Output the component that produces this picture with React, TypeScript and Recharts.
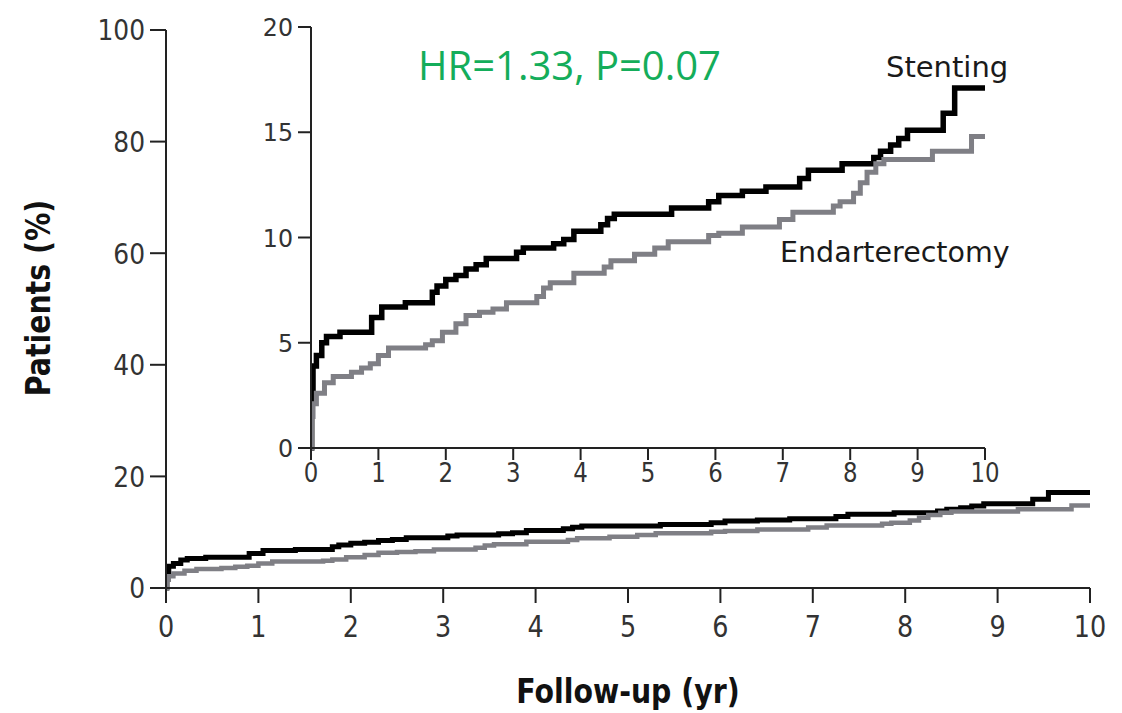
import React from 'react';
import { LineChart, Line, XAxis, YAxis } from 'recharts';

const yearTicks = [0, 1, 2, 3, 4, 5, 6, 7, 8, 9, 10];
const mainYTicks = [0, 20, 40, 60, 80, 100];
const insetYTicks = [0, 5, 10, 15, 20];

const stentTimes = [0, 0.01, 0.03, 0.08, 0.16, 0.23, 0.43, 0.9, 1.05, 1.4, 1.8, 1.87, 2.0, 2.15, 2.3, 2.45, 2.6, 3.05, 3.15, 3.6, 3.75, 3.9, 4.3, 4.4, 4.5, 5.35, 5.9, 6.05, 6.4, 6.75, 7.25, 7.38, 7.88, 8.35, 8.45, 8.6, 8.72, 8.85, 9.38, 9.55, 10.0];
const stentValues = [0, 2.5, 3.9, 4.4, 5.0, 5.3, 5.5, 6.2, 6.7, 6.9, 7.4, 7.7, 8.0, 8.2, 8.5, 8.7, 9.0, 9.3, 9.5, 9.7, 9.9, 10.3, 10.6, 10.9, 11.1, 11.4, 11.7, 12.0, 12.2, 12.4, 12.8, 13.2, 13.5, 13.8, 14.1, 14.4, 14.7, 15.1, 15.9, 17.1, 17.1];

const endTimes = [0, 0.01, 0.03, 0.08, 0.2, 0.33, 0.6, 0.75, 0.88, 1.0, 1.15, 1.7, 1.8, 1.95, 2.15, 2.3, 2.5, 2.7, 2.9, 3.35, 3.45, 3.55, 3.9, 4.35, 4.45, 4.8, 5.1, 5.3, 5.9, 6.05, 6.4, 6.95, 7.15, 7.75, 7.85, 8.05, 8.15, 8.25, 8.38, 8.5, 9.22, 9.8, 10.0];
const endValues = [0, 1.5, 2.1, 2.6, 3.1, 3.4, 3.6, 3.8, 4.0, 4.4, 4.75, 4.9, 5.1, 5.5, 5.9, 6.3, 6.45, 6.6, 6.9, 7.2, 7.6, 7.85, 8.3, 8.6, 8.9, 9.2, 9.5, 9.8, 10.1, 10.2, 10.5, 10.85, 11.2, 11.5, 11.7, 12.1, 12.6, 13.1, 13.5, 13.7, 14.1, 14.8, 14.8];

const stentData = stentTimes.map((t, i) => ({ t, v: stentValues[i] }));
const endData = endTimes.map((t, i) => ({ t, v: endValues[i] }));

const AXIS = '#222';
const BLACK = '#000000';
const GRAY = '#7f7f85';
const SANS = '"DejaVu Sans", sans-serif';

function makeTick(fontSize: number, scaleX: number, anchor: 'end' | 'middle', vertical: boolean) {
  return (props: any) => {
    const { x, y, payload } = props;
    return (
      <g transform={`translate(${x},${y}) scale(${scaleX},1)`}>
        <text
          x={0}
          y={0}
          dy={vertical ? '0.36em' : '0.74em'}
          textAnchor={anchor}
          fontSize={fontSize}
          fill="#333"
          fontFamily={SANS}
        >
          {payload.value}
        </text>
      </g>
    );
  };
}

const MainXTick = makeTick(30, 0.85, 'middle', false);
const MainYTick = makeTick(29, 0.86, 'end', true);
const InsetXTick = makeTick(26, 0.88, 'middle', false);
const InsetYTick = makeTick(25, 0.95, 'end', true);

export default function App() {
  return (
    <div style={{ position: 'relative', width: 1114, height: 705 }}>
      <div style={{ position: 'absolute', left: 0, top: 0 }}>
        <LineChart width={1110} height={700} margin={{ top: 22, right: 28, bottom: 80, left: 98 }}>
          <XAxis
            dataKey="t"
            type="number"
            domain={[0, 10]}
            ticks={yearTicks}
            allowDataOverflow
            height={40}
            tickSize={15}
            tickMargin={12}
            axisLine={{ stroke: AXIS, strokeWidth: 2 }}
            tickLine={{ stroke: AXIS, strokeWidth: 2 }}
            tick={MainXTick}
          />
          <YAxis
            type="number"
            domain={[0, 100]}
            ticks={mainYTicks}
            width={60}
            tickSize={16}
            tickMargin={5}
            axisLine={{ stroke: AXIS, strokeWidth: 2 }}
            tickLine={{ stroke: AXIS, strokeWidth: 2 }}
            tick={MainYTick}
          />
          <Line data={stentData} dataKey="v" type="stepAfter" stroke={BLACK} strokeWidth={5} dot={false} isAnimationActive={false} />
          <Line data={endData} dataKey="v" type="stepAfter" stroke={GRAY} strokeWidth={4.5} dot={false} isAnimationActive={false} />
        </LineChart>
      </div>
      <div style={{ position: 'absolute', left: 222, top: 2 }}>
        <LineChart width={780} height={478} margin={{ top: 17, right: 25, bottom: 0, left: 0 }}>
          <XAxis
            dataKey="t"
            type="number"
            domain={[0, 10]}
            ticks={yearTicks}
            allowDataOverflow
            height={40}
            tickSize={12}
            tickMargin={3}
            axisLine={{ stroke: AXIS, strokeWidth: 2 }}
            tickLine={{ stroke: AXIS, strokeWidth: 2 }}
            tick={InsetXTick}
          />
          <YAxis
            type="number"
            domain={[0, 20]}
            ticks={insetYTicks}
            width={81}
            tickSize={13}
            tickMargin={5}
            axisLine={{ stroke: AXIS, strokeWidth: 2 }}
            tickLine={{ stroke: AXIS, strokeWidth: 2 }}
            tick={InsetYTick}
          />
          <Line data={stentData} dataKey="v" type="stepAfter" stroke={BLACK} strokeWidth={5.5} dot={false} isAnimationActive={false} />
          <Line data={endData} dataKey="v" type="stepAfter" stroke={GRAY} strokeWidth={5} dot={false} isAnimationActive={false} />
        </LineChart>
      </div>
      <svg width={1114} height={705} style={{ position: 'absolute', left: 0, top: 0, pointerEvents: 'none' }}>
        <text x={410} y={72} fontSize={40} fill="#14ad5a" fontFamily='"Open Sans", sans-serif'>HR=1.33, P=0.07</text>
        <text x={878} y={69} fontSize={29} fill="#1a1a1a" fontFamily={SANS}>Stenting</text>
        <text x={772} y={254} fontSize={28.5} fill="#1a1a1a" fontFamily={SANS}>Endarterectomy</text>
        <g transform="translate(620,695) scale(0.86,1)">
          <text x={0} y={0} fontSize={33} fontWeight="bold" fill="#111" textAnchor="middle" fontFamily={SANS}>Follow-up (yr)</text>
        </g>
        <g transform="translate(42,290) rotate(-90) scale(0.86,1)">
          <text x={0} y={0} fontSize={33} fontWeight="bold" fill="#111" textAnchor="middle" fontFamily={SANS}>Patients (%)</text>
        </g>
      </svg>
    </div>
  );
}
